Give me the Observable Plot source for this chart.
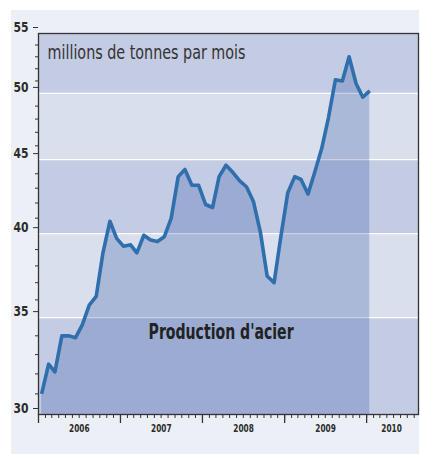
<!DOCTYPE html>
<html>
<head>
<meta charset="utf-8">
<script src="https://cdn.jsdelivr.net/npm/d3@7"></script>
<script src="https://cdn.jsdelivr.net/npm/@observablehq/plot@0.6"></script>
<style>
  html, body { margin: 0; padding: 0; background: #ffffff; }
  #wrap { position: relative; width: 422px; height: 454px; overflow: hidden; }
  #panel { position: absolute; left: 11px; top: 10px; width: 408px; height: 444px; background: #eceff6; }
  #chart { position: absolute; left: 0; top: 0; }
</style>
</head>
<body>
<div id="wrap"><div id="panel"></div><div id="chart"></div></div>
<script>
// Monthly steel production, millions of tonnes per month, Jan 2006 – Jan 2010
const startMonth = "2006-01-15";
const values = [
  31.0, 32.5, 32.1, 34.0, 34.0, 33.9, 34.6, 35.7, 36.2, 38.8, 40.8, 39.7,
  39.2, 39.3, 38.8, 39.9, 39.6, 39.5, 39.8, 41.0, 43.8, 44.3, 43.2, 43.2,
  41.9, 41.7, 43.8, 44.6, 44.1, 43.5, 43.1, 42.1, 40.1, 37.4, 37.0, 39.8,
  42.7, 43.8, 43.6, 42.6, 44.1, 45.8, 48.1, 51.1, 51.0, 53.0, 50.8, 49.7,
  50.2
];
const yTicks = [30, 35, 40, 45, 50, 55];
const gridValues = [35, 40, 45, 50];
const bandFills = ["#c3cce3", "#d9dfec", "#c3cce3", "#d9dfec", "#c3cce3"];
const yearStarts = ["2006-01-01", "2007-01-01", "2008-01-01", "2009-01-01", "2010-01-01"];
const yearLabels = ["2006", "2007", "2008", "2009", "2010"];
const yearLabelDates = ["2006-07-02", "2007-07-02", "2008-07-02", "2009-07-02", "2010-04-22"];
const xDomainText = ["2006-01-01", "2010-08-20"];
const unitText = ["millions de tonnes par mois"];
const seriesLabel = ["Production d'acier"];
const seriesLabelDate = ["2008-03-24"];
const seriesLabelValue = [34.2];

// Build tables
const t0 = new Date(startMonth);
const series = values.map((v, i) => ({
  date: new Date(Date.UTC(t0.getUTCFullYear(), t0.getUTCMonth() + i, 15)),
  value: v
}));
const xDomain = xDomainText.map(d => new Date(d));
const bands = bandFills.map((f, i) => ({lo: yTicks[i], hi: yTicks[i + 1], fill: f}));
const minorY = d3.range(yTicks[0] + 1, yTicks[yTicks.length - 1]).filter(v => v % 5 !== 0);
const monthTicks = d3.utcMonth.range(xDomain[0], xDomain[1]);
const yearTicks = yearStarts.map(d => new Date(d));
const yearLabelTable = yearLabels.map((l, i) => ({date: new Date(yearLabelDates[i]), label: l}));
const annot = seriesLabel.map((t, i) => ({date: new Date(seriesLabelDate[i]), value: seriesLabelValue[i], text: t}));

const FONT = "'DejaVu Sans Condensed', 'DejaVu Sans', sans-serif";

const chart = Plot.plot({
  width: 422,
  height: 454,
  marginLeft: 38,
  marginRight: 4,
  marginTop: 33,
  marginBottom: 40,
  style: {background: "transparent", fontFamily: FONT, color: "#2b2b2b", overflow: "visible"},
  x: {type: "utc", domain: xDomain, label: null},
  y: {type: "log", domain: [yTicks[0], yTicks[yTicks.length - 1]], label: null},
  marks: [
    Plot.rect(bands, {x1: () => xDomain[0], x2: () => xDomain[1], y1: "lo", y2: "hi", fill: "fill"}),
    Plot.ruleY(gridValues, {stroke: "#ffffff", strokeWidth: 1.2}),
    Plot.areaY(series, {x: "date", y1: yTicks[0], y2: "value", fill: "#22479a", fillOpacity: 0.25}),
    Plot.lineY(series, {x: "date", y: "value", stroke: "#2f6fad", strokeWidth: 3.6, strokeLinejoin: "round", strokeLinecap: "butt"}),
    Plot.frame({stroke: "#333333", strokeWidth: 1.3}),
    Plot.axisY({ticks: minorY, tickSize: 3, text: null, label: null, stroke: "#333"}),
    Plot.axisY({ticks: yTicks, tickSize: 5, tickPadding: 5, dy: -6, fontSize: 14, fontWeight: "bold",
      tickFormat: d => String(d), label: null, stroke: "#333", fill: "#2b2b2b"}),
    Plot.axisX({ticks: monthTicks, tickSize: 4, text: null, label: null, stroke: "#333"}),
    Plot.axisX({ticks: yearTicks, tickSize: 9, text: null, label: null, stroke: "#333", strokeWidth: 1.3}),
    Plot.text(yearLabelTable, {x: "date", frameAnchor: "bottom", text: "label", dy: 14, fontSize: 11,
      fontWeight: "bold", fill: "#2b2b2b", lineAnchor: "middle"}),
    Plot.text(unitText, {frameAnchor: "top-left", text: d => d, dx: 9, dy: 12, fontSize: 19, fill: "#333333"}),
    Plot.text(annot, {x: "date", y: "value", text: "text", fontSize: 21, fontWeight: "bold", fill: "#222222"})
  ]
});
document.getElementById("chart").appendChild(chart);

// Condense text to match the narrow typeface of the original
function fit(el, w) {
  el.setAttribute("textLength", w);
  el.setAttribute("lengthAdjust", "spacingAndGlyphs");
}
chart.querySelectorAll('g[aria-label="y-axis tick label"] text').forEach(el => fit(el, 15));
chart.querySelectorAll('g[aria-label="text"] text').forEach(el => {
  const s = el.textContent;
  if (yearLabels.includes(s)) fit(el, 20.5);
  else if (s === unitText[0]) fit(el, 198);
  else if (s === seriesLabel[0]) fit(el, 145);
});
</script>
</body>
</html>
